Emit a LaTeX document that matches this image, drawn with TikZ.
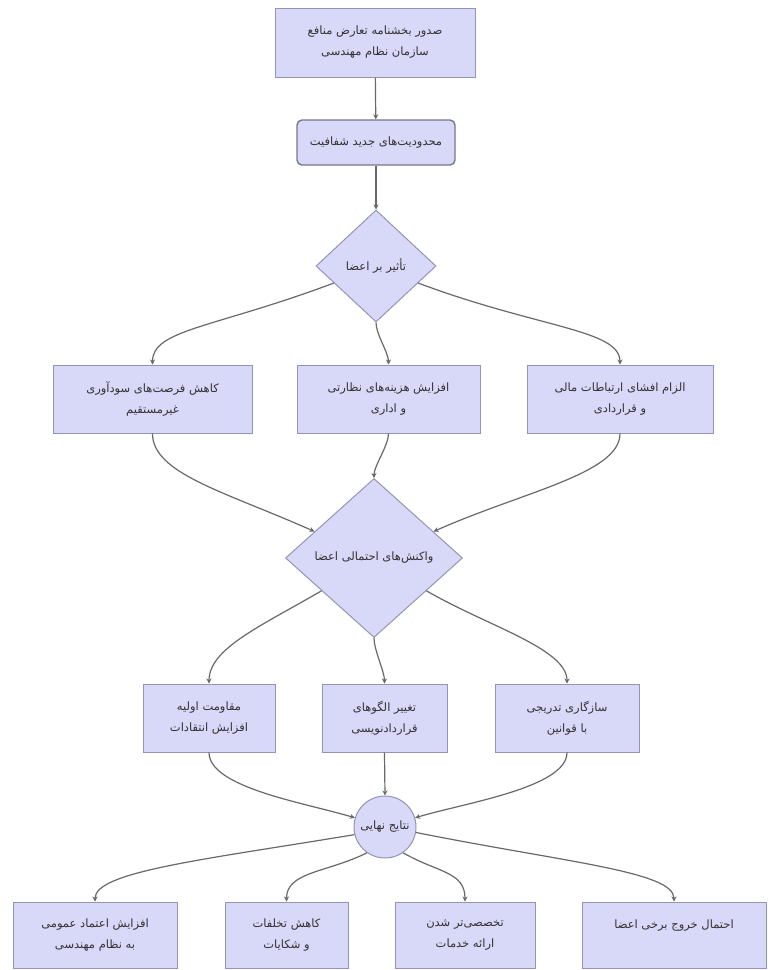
\documentclass[tikz,border=0pt]{standalone}
\usepackage{fontspec}
\usepackage{tikz}
\usepackage{xcolor}
\usetikzlibrary{shapes.geometric, positioning, arrows.meta}
\TeXXeTstate=1
\newfontfamily\fafont[Script=Arabic]{DejaVu Sans}
\newcommand{\fatxt}[1]{\beginR#1\endR}
\definecolor{nodefill}{RGB}{216,216,248}
\definecolor{nodeline}{RGB}{148,148,180}
\definecolor{edgecol}{RGB}{105,105,105}

\begin{document}
\begin{tikzpicture}[x=1pt,y=-1pt,
  every node/.style={font=\fafont\fontsize{11.5}{21}\selectfont, text=black!80, align=center, inner sep=0pt},
  stepbox/.style={draw=nodeline, fill=nodefill, rectangle, line width=1pt, minimum height=68},
  roundbox/.style={draw=nodeline!80!black, fill=nodefill, rectangle, rounded corners=5pt, line width=1.4pt, minimum height=45},
  decision/.style={draw=nodeline, fill=nodefill, line width=1pt, diamond},
  result/.style={draw=nodeline, fill=nodefill, line width=1pt, circle, minimum size=62},
  edge/.style={draw=edgecol, line width=1.2pt, -{Stealth[length=5pt,width=5pt,fill=black!80]}}]
\useasboundingbox[fill=white] (0,0) rectangle (768,970);

\node[stepbox, minimum width=200, minimum height=69] (src) at (375,42.5)
  {\fatxt{صدور بخشنامه تعارض منافع}\\ \fatxt{سازمان نظام مهندسی}};
\node[roundbox, minimum width=158] (lim) at (376,142.5)
  {\fatxt{محدودیت^^^^200cهای جدید شفافیت}};
\node[decision, minimum width=120, minimum height=112] (eff) at (376,266)
  {\fatxt{تأثیر بر اعضا}};

% row 2
\node[stepbox, minimum width=199] (cut) at (152.5,399)
  {\fatxt{کاهش فرصت^^^^200cهای سودآوری}\\ \fatxt{غیرمستقیم}};
\node[stepbox, minimum width=183] (cost) at (388.5,399)
  {\fatxt{افزایش هزینه^^^^200cهای نظارتی}\\ \fatxt{و اداری}};
\node[stepbox, minimum width=186] (disc) at (620,399)
  {\fatxt{الزام افشای ارتباطات مالی}\\ \fatxt{و قراردادی}};

\node[decision, minimum width=177, minimum height=159] (react) at (374,558)
  {\fatxt{واکنش^^^^200cهای احتمالی اعضا}};

% row 3
\node[stepbox, minimum width=132] (resist) at (209,718)
  {\fatxt{مقاومت اولیه}\\ \fatxt{افزایش انتقادات}};
\node[stepbox, minimum width=125] (pattern) at (384.5,718)
  {\fatxt{تغییر الگوهای}\\ \fatxt{قراردادنویسی}};
\node[stepbox, minimum width=144] (adapt) at (567,718)
  {\fatxt{سازگاری تدریجی}\\ \fatxt{با قوانین}};

\node[result] (final) at (385,827) {\fatxt{نتایج نهایی}};

% row 4
\node[stepbox, minimum width=164, minimum height=66] (trust) at (95,935)
  {\fatxt{افزایش اعتماد عمومی}\\ \fatxt{به نظام مهندسی}};
\node[stepbox, minimum width=123, minimum height=66] (fewer) at (286.5,935)
  {\fatxt{کاهش تخلفات}\\ \fatxt{و شکایات}};
\node[stepbox, minimum width=140, minimum height=66] (special) at (465,935)
  {\fatxt{تخصصی^^^^200cتر شدن}\\ \fatxt{ارائه خدمات}};
\node[stepbox, minimum width=184, minimum height=66] (leave) at (674,935)
  {\fatxt{احتمال خروج برخی اعضا}\\ \mbox{}};

\draw[edge] (src) -- (lim);
\draw[edge] (lim) -- (eff);
\draw[edge] (eff.202) .. controls +(-120,45) and +(0,-35) .. (cut.north);
\draw[edge] (eff.south) .. controls +(0,12) and +(0,-12) .. (cost.north);
\draw[edge] (eff.338) .. controls +(120,45) and +(0,-35) .. (disc.north);
\draw[edge] (cut.south) .. controls +(0,40) and +(-90,-40) .. (react.156);
\draw[edge] (cost.south) .. controls +(0,12) and +(0,-12) .. (react.north);
\draw[edge] (disc.south) .. controls +(0,40) and +(90,-40) .. (react.24);
\draw[edge] (react.212) .. controls +(-60,35) and +(0,-35) .. (resist.north);
\draw[edge] (react.south) .. controls +(0,12) and +(0,-12) .. (pattern.north);
\draw[edge] (react.328) .. controls +(60,35) and +(0,-35) .. (adapt.north);
\draw[edge] (resist.south) .. controls +(0,35) and +(-50,-15) .. (final.163);
\draw[edge] (pattern.south) -- (final.north);
\draw[edge] (adapt.south) .. controls +(0,35) and +(50,-15) .. (final.17);
\draw[edge] (final.194) .. controls +(-150,25) and +(0,-30) .. (trust.north);
\draw[edge] (final.235) .. controls +(-40,20) and +(0,-30) .. (fewer.north);
\draw[edge] (final.305) .. controls +(35,20) and +(0,-30) .. (special.north);
\draw[edge] (final.350) .. controls +(150,30) and +(0,-30) .. (leave.north);
\end{tikzpicture}
\end{document}
